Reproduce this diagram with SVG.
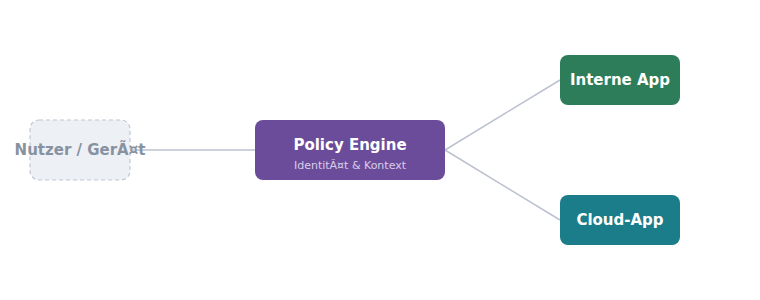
<svg xmlns="http://www.w3.org/2000/svg" width="760" height="300" viewBox="0 0 760 300">
<style>
.t{font-family:"DejaVu Sans","Liberation Sans",sans-serif;font-weight:bold;font-size:15px;fill:#fff;text-anchor:middle}
.s{font-family:"DejaVu Sans","Liberation Sans",sans-serif;font-size:11px;fill:#d9cdea;text-anchor:middle}
.e{stroke:#bcc2cf;stroke-width:1.6;fill:none}
</style>
<rect width="760" height="300" fill="#fff"/>
<g id="connectors">
<line class="e" x1="130" y1="150" x2="255" y2="150"/>
<line class="e" x1="445" y1="150" x2="560" y2="80"/>
<line class="e" x1="445" y1="150" x2="560" y2="220"/>
</g>
<g id="user">
<rect x="30" y="120" width="100" height="60" rx="9" fill="#edf0f5" stroke="#c0c7d4" stroke-width="1.2" stroke-dasharray="4 3"/>
<text class="t" x="80" y="155" style="fill:#8792a1">Nutzer / GerÃ¤t</text>
</g>
<g id="policy">
<rect x="255" y="120" width="190" height="60" rx="8" fill="#6b4c9a"/>
<text class="t" x="350" y="150">Policy Engine</text>
<text class="s" x="350" y="169">IdentitÃ¤t &amp; Kontext</text>
</g>
<g id="internal">
<rect x="560" y="55" width="120" height="50" rx="8" fill="#2e7d5a"/>
<text class="t" x="620" y="85">Interne App</text>
</g>
<g id="cloud">
<rect x="560" y="195" width="120" height="50" rx="8" fill="#1b7d8a"/>
<text class="t" x="620" y="225">Cloud-App</text>
</g>
</svg>
